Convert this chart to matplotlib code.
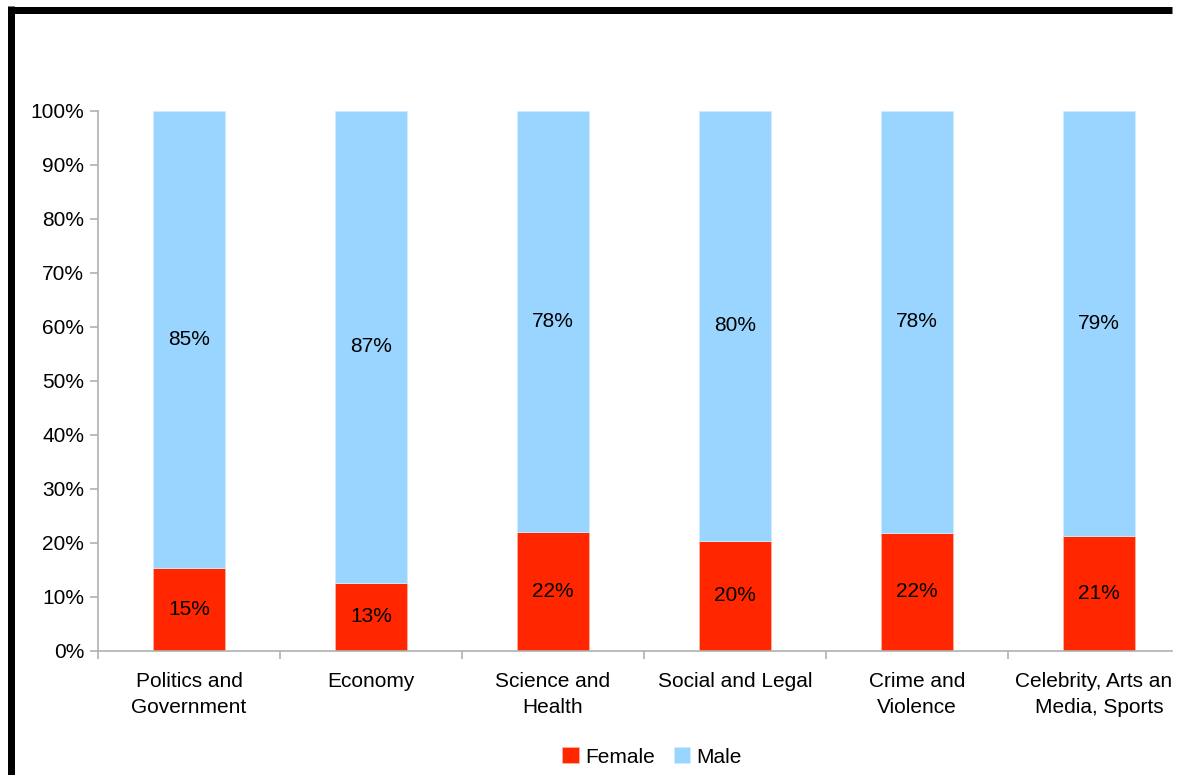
import matplotlib.pyplot as plt
from matplotlib.lines import Line2D
from matplotlib.patches import Rectangle

plt.rcParams['font.family'] = ['Liberation Sans', 'DejaVu Sans']

categories = ['Politics and\nGovernment', 'Economy', 'Science and\nHealth',
              'Social and Legal', 'Crime and\nViolence', 'Celebrity, Arts and\nMedia, Sports']
female = [15.4, 12.6, 22.0, 20.4, 21.9, 21.3]
male = [100 - f for f in female]
female_labels = ['15%', '13%', '22%', '20%', '22%', '21%']
male_labels = ['85%', '87%', '78%', '80%', '78%', '79%']

red = '#ff2600'
blue = '#99d5ff'
grey = '#b0b0b0'
fs = 15

fig = plt.figure(figsize=(11.79, 7.75), dpi=100)
W, H = 1179, 775
# axes box in pixels: left 98, right 1190 (goes past the figure edge), top 111, bottom 651
ax = fig.add_axes([98 / W, 1 - 651 / H, (1190 - 98) / W, (651 - 111) / H])

x = range(len(categories))
ax.bar(x, female, width=0.4, color=red, edgecolor='#ffb0a0', linewidth=0.6, label='Female')
ax.bar(x, male, width=0.4, bottom=female, color=blue, edgecolor='#d0ecff', linewidth=0.6, label='Male')

for i in x:
    ax.text(i, female[i] / 2, female_labels[i], ha='center', va='center', fontsize=fs)
    ax.text(i, female[i] + male[i] / 2, male_labels[i], ha='center', va='center', fontsize=fs)

ax.set_xlim(-0.5, 5.5)
ax.set_ylim(0, 100)
ax.set_yticks(range(0, 101, 10))
ax.set_yticklabels([f'{v}%' for v in range(0, 101, 10)], fontsize=fs)
ax.set_xticks(list(x))
ax.set_xticklabels(categories, fontsize=fs, linespacing=1.5)
ax.set_xticks([i + 0.5 for i in range(-1, 6)], minor=True)
ax.tick_params(axis='x', which='major', length=0, pad=15)
ax.tick_params(axis='x', which='minor', length=6, color=grey, width=1.2)
ax.tick_params(axis='y', length=6, color=grey, width=1.2, pad=4)

for s in ['top', 'right']:
    ax.spines[s].set_visible(False)
for s in ['left', 'bottom']:
    ax.spines[s].set_color(grey)
    ax.spines[s].set_linewidth(1.2)

fig.legend(loc='center', bbox_to_anchor=(652 / W, 1 - 757 / H), ncol=2, frameon=False,
           fontsize=fs, handlelength=0.8, handleheight=0.8, handletextpad=0.3,
           columnspacing=0.9)

# the original is cut off at the right edge of the frame
fig.add_artist(Rectangle((1173 / W, 0), 10 / W, 1, color='white',
                         transform=fig.transFigure, zorder=10))

# black frame on top and left
fig.add_artist(Line2D([10.5 / W, 1172 / W], [1 - 9.5 / H, 1 - 9.5 / H], color='black',
                      linewidth=7 * 72 / 100, transform=fig.transFigure, solid_capstyle='butt',
                      zorder=11))
fig.add_artist(Line2D([10.5 / W, 10.5 / W], [1 - 6 / H, 0], color='black',
                      linewidth=7 * 72 / 100, transform=fig.transFigure, solid_capstyle='butt',
                      zorder=11))

fig.savefig('out.png', dpi=100)
